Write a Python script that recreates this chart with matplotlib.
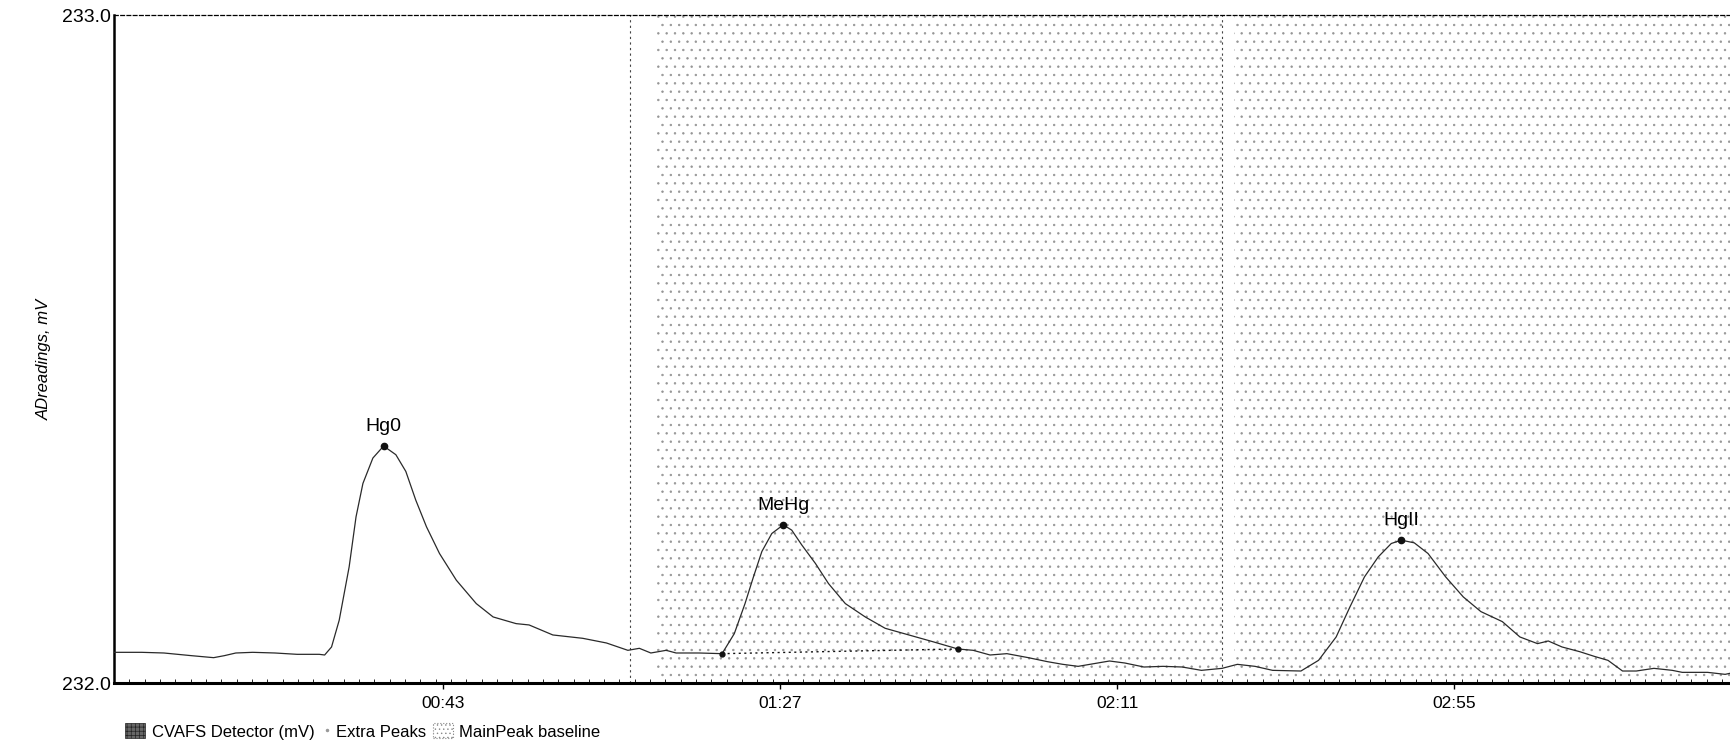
import matplotlib
matplotlib.use("Agg")
import matplotlib.pyplot as plt
from matplotlib.patches import Patch
from matplotlib.lines import Line2D
from matplotlib.ticker import FixedLocator, MultipleLocator, FuncFormatter

plt.rcParams['font.family'] = ['Liberation Sans', 'DejaVu Sans']
plt.rcParams['hatch.linewidth'] = 0.5

# detector trace (seconds, mV)
time_s = [0, 3.6, 6.5, 10.1, 13.0, 14.4, 15.9, 18.1, 21.0, 23.9, 26.8,
          27.5, 28.4, 29.4, 30.7, 31.6, 32.5, 33.8, 35.2, 36.8, 38.1, 39.4, 40.8, 42.5,
          44.7, 47.3, 49.5, 52.5, 54.2, 57.3, 61.2, 64.3, 67.1, 68.6, 70.1, 72.1, 73.4, 76.4,
          79.4, 81.0, 82.4, 83.5, 84.6, 85.9, 87.4, 88.5, 89.8, 91.6, 93.3, 95.5, 98.1,
          100.7, 103.8, 106.9, 110.2,
          112.2, 114.4, 116.6, 119.4, 121.9, 123.9, 125.9, 130.0, 132.0, 134.5, 137.0,
          139.5, 142.0, 144.7,
          146.7, 149.0, 151.3, 155.0, 157.3, 159.6, 161.4, 163.3, 165.1, 166.8, 168.1,
          169.8, 171.6, 173.9, 176.2, 178.5, 181.3, 183.6, 185.9, 187.3, 189.1, 191.4,
          193.3, 195.1, 197.0, 198.8, 201.1, 203.5, 204.8, 208.1, 210.4, 212.0]
signal = [232.046, 232.046, 232.045, 232.041, 232.038, 232.041, 232.045, 232.046, 232.045, 232.043, 232.043,
          232.042, 232.054, 232.094, 232.174, 232.249, 232.299, 232.337, 232.355, 232.342, 232.317, 232.274,
          232.234, 232.194, 232.154, 232.119, 232.099, 232.089, 232.087, 232.072, 232.067, 232.060, 232.049,
          232.052, 232.045, 232.049, 232.045, 232.045,
          232.044, 232.074, 232.119, 232.159, 232.197, 232.224, 232.237, 232.229, 232.207, 232.179, 232.149,
          232.119, 232.099, 232.082, 232.072, 232.062, 232.051,
          232.049, 232.042, 232.044, 232.038, 232.032, 232.028, 232.025, 232.033, 232.030, 232.024, 232.025,
          232.024, 232.019, 232.022,
          232.028, 232.025, 232.019, 232.018, 232.034, 232.069, 232.114, 232.159, 232.189, 232.209, 232.214,
          232.210, 232.194, 232.159, 232.129, 232.107, 232.092, 232.069, 232.059, 232.063, 232.054, 232.047,
          232.040, 232.034, 232.018, 232.018, 232.022, 232.019, 232.016, 232.016, 232.013, 232.017]

peak_names = ["Hg0", "MeHg", "HgII"]
peak_times = [35.2, 87.4, 168.1]
peak_values = [232.355, 232.237, 232.214]

baseline_times = [79.4, 110.2]
baseline_values = [232.044, 232.051]

window_lines = [67.4, 144.7]
shaded_start = [70.8, 146.3]
shaded_end = [144.7, 212.5]

tick_times = [43, 87, 131, 175]

fig = plt.figure(figsize=(17.31, 7.51), dpi=100)
ax = fig.add_axes([0.0659, 0.0905, 0.94, 0.889])

# stippled peak windows
for a, b in zip(shaded_start, shaded_end):
    ax.fill_between([a, b], 232.0, 233.0, facecolor='none', edgecolor='#959595',
                    hatch='..', linewidth=0, zorder=1)

for t in window_lines:
    ax.axvline(t, color='#444444', lw=0.8, ls=(0, (2, 3)), zorder=2)

ax.plot(time_s, signal, color='#2a2a2a', lw=0.9, zorder=3)

# MeHg baseline
ax.plot(baseline_times, baseline_values, color='#111111', lw=1.0, ls=(0, (1.5, 2.5)), zorder=3)
ax.plot(baseline_times, baseline_values, 'o', color='#111111', ms=3.5, zorder=4)

ax.plot(peak_times, peak_values, 'o', color='#111111', ms=4.5, zorder=4)
for name, t, v in zip(peak_names, peak_times, peak_values):
    ax.annotate(name, (t, v), xytext=(0, 8), textcoords='offset points',
                ha='center', va='bottom', fontsize=14)

ax.set_xlim(0, 212.5)
ax.set_ylim(232.0, 233.0)

ax.xaxis.set_major_locator(FixedLocator(tick_times))
ax.xaxis.set_minor_locator(MultipleLocator(2))
ax.xaxis.set_major_formatter(FuncFormatter(lambda v, p: f"{int(v) // 60:02d}:{int(v) % 60:02d}"))
ax.set_yticks([232.0, 233.0])
ax.yaxis.set_major_formatter(FuncFormatter(lambda v, p: f"{v:.1f}"))

ax.tick_params(axis='x', which='major', length=4, width=1, pad=5, labelsize=12.5)
ax.tick_params(axis='x', which='minor', length=3, width=0.6, direction='in')
ax.tick_params(axis='y', length=0, pad=2, labelsize=14)

ax.spines['left'].set_linewidth(1.8)
ax.spines['bottom'].set_linewidth(2.2)
ax.spines['top'].set_linewidth(0.9)
ax.spines['top'].set_linestyle((0, (3, 2)))
ax.spines['right'].set_visible(False)

fig.text(0.0255, 0.521, "ADreadings, mV", rotation=90, fontsize=12, style='italic',
         ha='center', va='center')

legend_items = [
    (Patch(facecolor='#666666', edgecolor='#222222', hatch='++++', lw=0.5),
     "CVAFS Detector (mV)", 0.0722, 1.2),
    (Line2D([], [], marker='.', ls='none', color='#999999', ms=3),
     "Extra Peaks", 0.1875, 0.3),
    (Patch(facecolor='white', edgecolor='#888888', hatch='....', lw=0.8, ls=':'),
     "MainPeak baseline", 0.2500, 1.2),
]
for handle, label, x0, hl in legend_items:
    fig.legend([handle], [label], loc='center left', bbox_to_anchor=(x0, 0.026),
               frameon=False, fontsize=12, handlelength=hl, handleheight=1.0,
               handletextpad=0.4, borderpad=0, borderaxespad=0)

fig.savefig("out.png", dpi=100)
